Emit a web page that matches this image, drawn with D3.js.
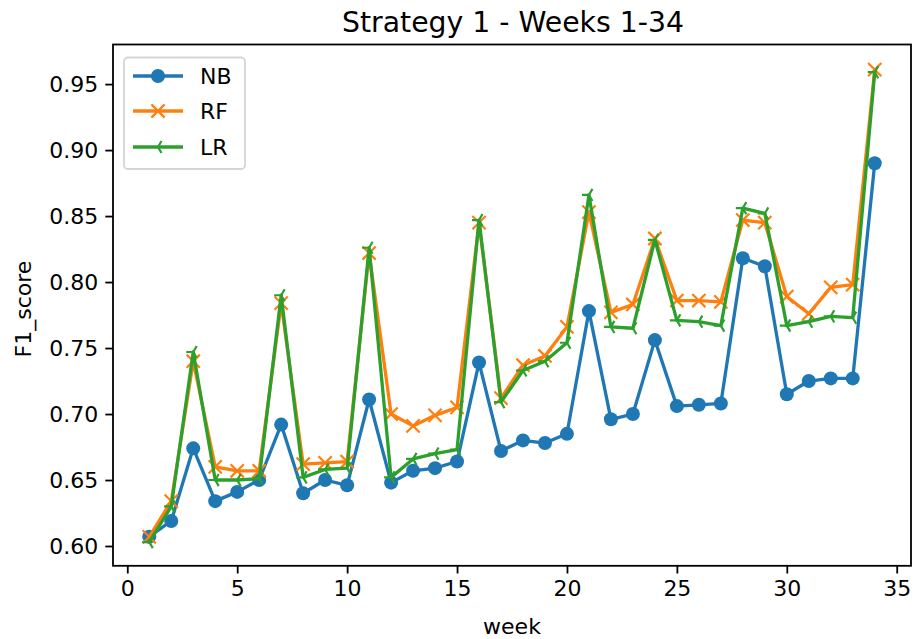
<!DOCTYPE html>
<html>
<head>
<meta charset="utf-8">
<script src="https://cdn.jsdelivr.net/npm/d3@7"></script>
<style>
  html, body { margin: 0; padding: 0; background: #fff; }
  svg { display: block; font-family: "DejaVu Sans", sans-serif; }
</style>
</head>
<body>
<svg id="chart" width="917" height="639"></svg>
<script>
const weeks = d3.range(1, 35);
const nb = [0.607, 0.619, 0.674, 0.634, 0.641, 0.650, 0.692, 0.640, 0.650, 0.646,
            0.711, 0.648, 0.657, 0.659, 0.664, 0.739, 0.672, 0.680, 0.678, 0.685,
            0.778, 0.696, 0.700, 0.756, 0.706, 0.707, 0.708, 0.818, 0.812, 0.715,
            0.725, 0.727, 0.727, 0.890];
const rf = [0.607, 0.634, 0.740, 0.660, 0.657, 0.657, 0.784, 0.662, 0.663, 0.664,
            0.822, 0.700, 0.691, 0.699, 0.705, 0.845, 0.712, 0.737, 0.744, 0.766,
            0.853, 0.777, 0.783, 0.833, 0.786, 0.786, 0.785, 0.847, 0.845, 0.789,
            0.776, 0.796, 0.798, 0.961];
const lr = [0.603, 0.630, 0.747, 0.650, 0.650, 0.651, 0.790, 0.652, 0.658, 0.659,
            0.826, 0.652, 0.666, 0.670, 0.673, 0.847, 0.709, 0.733, 0.740, 0.754,
            0.866, 0.766, 0.765, 0.832, 0.771, 0.770, 0.767, 0.856, 0.852, 0.767,
            0.770, 0.774, 0.773, 0.959];
const seriesNames = ["NB", "RF", "LR"];
const colors = ["#1f77b4", "#ff7f0e", "#2ca02c"];
const xTicks = [0, 5, 10, 15, 20, 25, 30, 35];
const yTicks = [0.60, 0.65, 0.70, 0.75, 0.80, 0.85, 0.90, 0.95];
const titleText = "Strategy 1 - Weeks 1-34";

const svg = d3.select("#chart");
const L = 113, R = 911, T = 44.5, B = 565.8;
const x = d3.scaleLinear().domain([-0.65, 35.65]).range([L, R]);
const y = d3.scaleLinear().domain([0.585, 0.98]).range([B, T]);
const FS = 22;

// axes
const xAxis = d3.axisBottom(x).tickValues(xTicks).tickFormat(d3.format("d")).tickSizeInner(7.7).tickSizeOuter(0).tickPadding(7);
const yAxis = d3.axisLeft(y).tickValues(yTicks).tickFormat(d3.format(".2f")).tickSizeInner(7.7).tickSizeOuter(0).tickPadding(7);
const gx = svg.append("g").attr("transform", `translate(0,${B})`).call(xAxis);
const gy = svg.append("g").attr("transform", `translate(${L},0)`).call(yAxis);
[gx, gy].forEach(g => {
  g.select(".domain").remove();
  g.selectAll(".tick line").attr("stroke", "#000").attr("stroke-width", 1.8);
  g.selectAll(".tick text").attr("font-size", FS).attr("fill", "#000").attr("font-family", "DejaVu Sans");
});

// series
const data = [nb, rf, lr];
const plot = svg.append("g");
const line = d3.line().x((d, i) => x(weeks[i])).y(d => y(d));

function drawMarker(g, kind, cx, cy, color) {
  if (kind === 0) {
    g.append("circle").attr("cx", cx).attr("cy", cy).attr("r", 7).attr("fill", color);
  } else if (kind === 1) {
    const s = 6.6;
    g.append("path").attr("d", `M${cx - s},${cy - s}L${cx + s},${cy + s}M${cx - s},${cy + s}L${cx + s},${cy - s}`)
      .attr("stroke", color).attr("stroke-width", 2.2).attr("fill", "none");
  } else {
    const s = 7;
    g.append("path").attr("d",
      `M${cx},${cy}L${cx - s},${cy}M${cx},${cy}L${cx + s * 0.5},${cy - s * 0.866}M${cx},${cy}L${cx + s * 0.5},${cy + s * 0.866}`)
      .attr("stroke", color).attr("stroke-width", 2.2).attr("fill", "none");
  }
}

data.forEach((vals, k) => {
  const g = plot.append("g");
  g.append("path").datum(vals).attr("d", line).attr("fill", "none")
    .attr("stroke", colors[k]).attr("stroke-width", 3.3).attr("stroke-linejoin", "round").attr("stroke-linecap", "square");
  vals.forEach((v, i) => drawMarker(g, k, x(weeks[i]), y(v), colors[k]));
});

// frame
svg.append("rect").attr("x", L).attr("y", T).attr("width", R - L).attr("height", B - T)
  .attr("fill", "none").attr("stroke", "#000").attr("stroke-width", 1.8);

// labels
svg.append("text").attr("x", 513).attr("y", 31.5).attr("text-anchor", "middle")
  .attr("font-size", 28.3).attr("fill", "#000").text(titleText);
svg.append("text").attr("x", (L + R) / 2).attr("y", 634).attr("text-anchor", "middle")
  .attr("font-size", FS).attr("fill", "#000").text("week");
svg.append("text").attr("transform", `translate(31,309) rotate(-90)`).attr("text-anchor", "middle")
  .attr("font-size", FS).attr("fill", "#000").text("F1_score");

// legend
const lg = svg.append("g");
lg.append("rect").attr("x", 124).attr("y", 57.5).attr("width", 121).attr("height", 111.5).attr("rx", 4)
  .attr("fill", "#fff").attr("fill-opacity", 0.8).attr("stroke", "#d5d5d5").attr("stroke-width", 1.8);
const rowsY = [76, 111, 147];
seriesNames.forEach((name, k) => {
  lg.append("line").attr("x1", 133).attr("x2", 183).attr("y1", rowsY[k]).attr("y2", rowsY[k])
    .attr("stroke", colors[k]).attr("stroke-width", 3.3);
  drawMarker(lg, k, 158, rowsY[k], colors[k]);
  lg.append("text").attr("x", 200).attr("y", rowsY[k] + 8).attr("font-size", FS).attr("fill", "#000").text(name);
});
</script>
</body>
</html>
